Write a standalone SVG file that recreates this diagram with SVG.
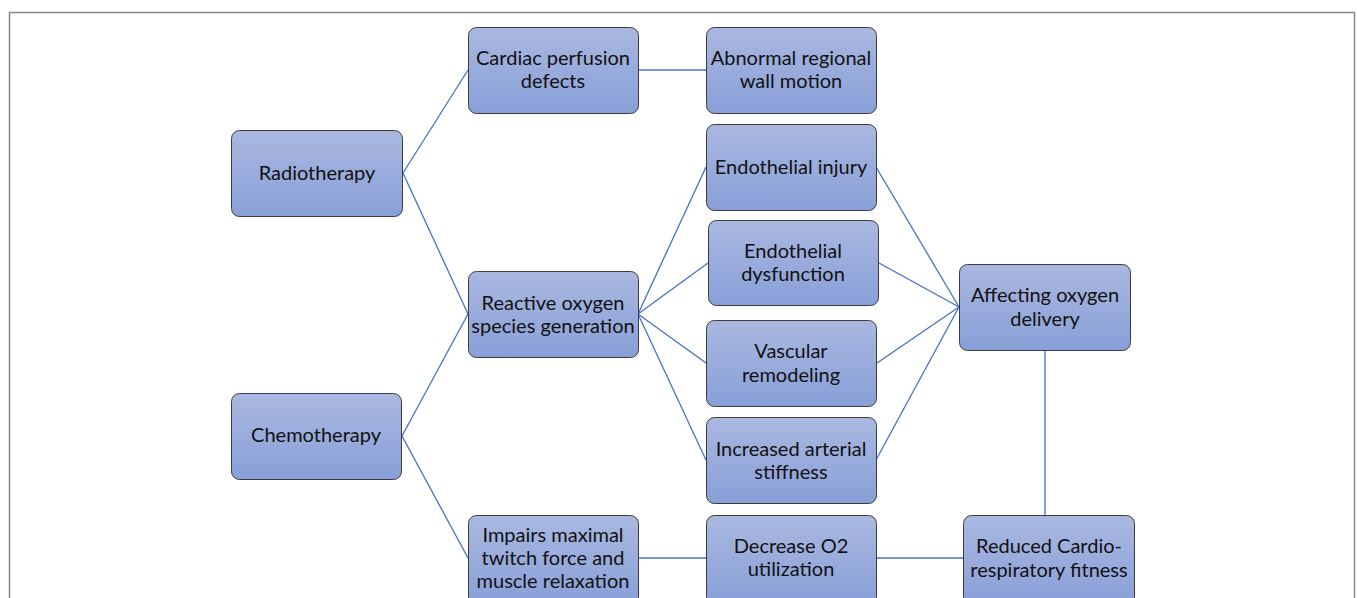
<svg xmlns="http://www.w3.org/2000/svg" width="1357" height="598" viewBox="0 0 1357 598">
<defs>
<linearGradient id="g" x1="0" y1="0" x2="0" y2="1">
<stop offset="0" stop-color="#aab8e0"/>
<stop offset="1" stop-color="#889fd8"/>
</linearGradient>
<style>
.n rect{fill:url(#g);stroke:#3c3c3c;stroke-width:1}
.n text{font-family:"Lato","Liberation Sans",sans-serif;font-size:20px;fill:#111;text-anchor:middle}
.c line{stroke:#4472c4;stroke-width:1.3}
</style>
</defs>
<rect x="0" y="0" width="1357" height="598" fill="#fff"/>
<path d="M9.5 600 V12.5 H1354.5 V600" fill="none" stroke="#888" stroke-width="1.5"/>
<g class="c">
<line x1="403" y1="173" x2="468" y2="70"/>
<line x1="403" y1="173" x2="468" y2="314"/>
<line x1="402" y1="436" x2="468" y2="314"/>
<line x1="402" y1="436" x2="468" y2="558"/>
<line x1="638" y1="70" x2="706" y2="70"/>
<line x1="638" y1="314" x2="706" y2="167"/>
<line x1="638" y1="314" x2="708" y2="263"/>
<line x1="638" y1="314" x2="706" y2="363"/>
<line x1="638" y1="314" x2="706" y2="460"/>
<line x1="876" y1="167" x2="959" y2="307"/>
<line x1="879" y1="263" x2="959" y2="307"/>
<line x1="877" y1="363" x2="959" y2="307"/>
<line x1="876" y1="460" x2="959" y2="307"/>
<line x1="1045" y1="350" x2="1045" y2="515"/>
<line x1="638" y1="558" x2="706" y2="558"/>
<line x1="876" y1="558" x2="963" y2="558"/>
</g>
<g id="radiotherapy" class="n"><rect x="231.5" y="130.5" width="171" height="86" rx="8"/><text x="317" y="180">Radiotherapy</text></g>
<g id="chemotherapy" class="n"><rect x="231.5" y="393.5" width="170" height="86" rx="8"/><text x="316" y="442">Chemotherapy</text></g>
<g id="cardiac" class="n"><rect x="468.5" y="27.5" width="170" height="86" rx="8"/><text x="553" y="65">Cardiac perfusion</text><text x="553" y="88">defects</text></g>
<g id="abnormal" class="n"><rect x="706.5" y="27.5" width="170" height="86" rx="8"/><text x="791" y="65">Abnormal regional</text><text x="791" y="88">wall motion</text></g>
<g id="ros" class="n"><rect x="468.5" y="271.5" width="170" height="86" rx="8"/><text x="553" y="310">Reactive oxygen</text><text x="553" y="333">species generation</text></g>
<g id="endo-injury" class="n"><rect x="706.5" y="124.5" width="170" height="86" rx="8"/><text x="791" y="174">Endothelial injury</text></g>
<g id="endo-dysfunction" class="n"><rect x="708.5" y="220.5" width="170" height="85" rx="8"/><text x="793" y="258">Endothelial</text><text x="793" y="281">dysfunction</text></g>
<g id="vascular" class="n"><rect x="706.5" y="320.5" width="170" height="86" rx="8"/><text x="791" y="358">Vascular</text><text x="791" y="382">remodeling</text></g>
<g id="stiffness" class="n"><rect x="706.5" y="417.5" width="170" height="86" rx="8"/><text x="791" y="456">Increased arterial</text><text x="791" y="479">stiffness</text></g>
<g id="oxygen-delivery" class="n"><rect x="959.5" y="264.5" width="171" height="86" rx="8"/><text x="1045" y="302">Affecting oxygen</text><text x="1045" y="326">delivery</text></g>
<g id="impairs" class="n"><rect x="468.5" y="515.5" width="170" height="90" rx="8"/><text x="553" y="542">Impairs maximal</text><text x="553" y="565">twitch force and</text><text x="553" y="588">muscle relaxation</text></g>
<g id="o2" class="n"><rect x="706.5" y="515.5" width="170" height="90" rx="8"/><text x="791" y="553">Decrease O2</text><text x="791" y="576">utilization</text></g>
<g id="fitness" class="n"><rect x="963.5" y="515.5" width="171" height="90" rx="8"/><text x="1049" y="553">Reduced Cardio-</text><text x="1049" y="577">respiratory fitness</text></g>
</svg>
